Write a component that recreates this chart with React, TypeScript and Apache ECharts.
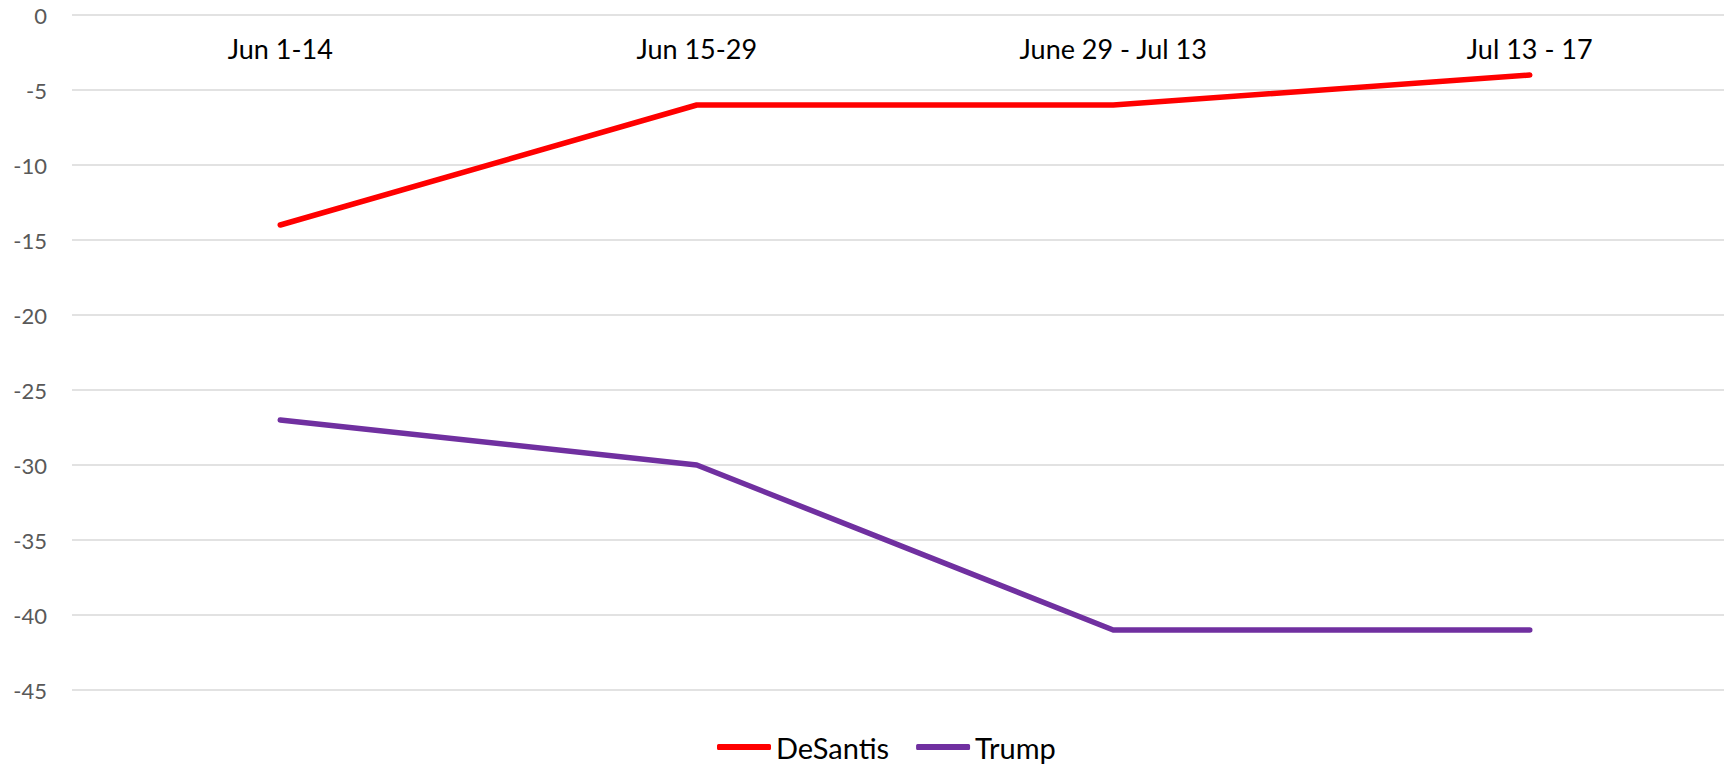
import React, { useEffect, useRef } from "react";
import * as echarts from "echarts";

// Poll margin by period
const periods = ["Jun 1-14", "Jun 15-29", "June 29 - Jul 13", "Jul 13 - 17"];
const desantis = [-14, -6, -6, -4];
const trump = [-27, -30, -41, -41];

const FONT = "Lato, 'Noto Sans', sans-serif";

export default function App() {
  const ref = useRef<HTMLDivElement>(null);

  useEffect(() => {
    document.body.style.margin = "0";
    const chart = echarts.init(ref.current!, undefined, { renderer: "svg" });
    chart.setOption({
      animation: false,
      backgroundColor: "#ffffff",
      textStyle: { fontFamily: FONT },
      grid: {
        left: 72,
        top: 15,
        width: 1666,
        height: 675,
        containLabel: false,
        outerBoundsMode: "none",
      },
      legend: {
        left: 712,
        top: 727,
        icon: "roundRect",
        itemWidth: 54,
        itemHeight: 6,
        itemGap: 27,
        textStyle: { fontSize: 29, lineHeight: 30, color: "#000000", fontFamily: FONT },
        data: ["DeSantis", "Trump"],
      },
      xAxis: {
        type: "category",
        data: periods,
        position: "top",
        boundaryGap: true,
        axisLine: { show: false },
        axisTick: { show: false },
        axisLabel: {
          inside: true,
          margin: 20,
          fontSize: 27,
          color: "#000000",
          fontFamily: FONT,
        },
      },
      yAxis: {
        type: "value",
        min: -45,
        max: 0,
        interval: 5,
        axisLine: { show: false },
        axisTick: { show: false },
        axisLabel: { fontSize: 22, color: "#595959", margin: 25, fontFamily: FONT },
        splitLine: { lineStyle: { color: "#D9D9D9", width: 1.5 } },
      },
      series: [
        {
          name: "DeSantis",
          type: "line",
          data: desantis,
          symbol: "none",
          color: "#FF0000",
          lineStyle: { width: 5.5, color: "#FF0000", cap: "round", join: "round" },
        },
        {
          name: "Trump",
          type: "line",
          data: trump,
          symbol: "none",
          color: "#7030A0",
          lineStyle: { width: 5.5, color: "#7030A0", cap: "round", join: "round" },
        },
      ],
    });
    return () => chart.dispose();
  }, []);

  return <div ref={ref} style={{ width: 1724, height: 765 }} />;
}
